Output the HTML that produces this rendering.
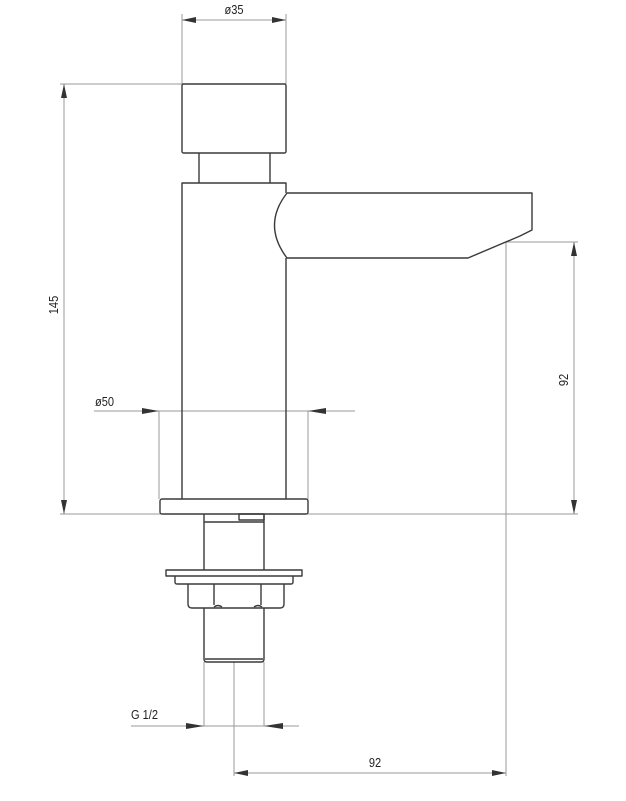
<!DOCTYPE html>
<html><head><style>body{margin:0;background:#fff}svg{display:block}</style></head><body>
<svg width="626" height="801" viewBox="0 0 626 801" xmlns="http://www.w3.org/2000/svg" font-family="Liberation Sans, sans-serif">
<g stroke="#999" stroke-width="1" fill="none">
<line x1="182" y1="14" x2="182" y2="84"/><line x1="286" y1="14" x2="286" y2="84"/>
<line x1="182" y1="20" x2="286" y2="20"/>
<line x1="60" y1="84" x2="182" y2="84"/>
<line x1="64" y1="84" x2="64" y2="514"/>
<line x1="60" y1="514" x2="578" y2="514"/>
<line x1="506" y1="242" x2="578" y2="242"/>
<line x1="574" y1="242" x2="574" y2="514"/>
<line x1="506" y1="242" x2="506" y2="776"/>
<line x1="234" y1="662" x2="234" y2="776"/>
<line x1="234" y1="773" x2="506" y2="773"/>
<line x1="94" y1="411" x2="355" y2="411"/>
<line x1="159" y1="411" x2="159" y2="499"/><line x1="308" y1="411" x2="308" y2="499"/>
<line x1="131" y1="726" x2="299" y2="726"/>
<line x1="204" y1="662" x2="204" y2="726"/><line x1="264" y1="662" x2="264" y2="726"/>
</g>
<g fill="#333">
<polygon points="182,20 196,17 196,23"/><polygon points="286,20 272,17 272,23"/>
<polygon points="64,84 61,98 67,98"/><polygon points="64,514 61,500 67,500"/>
<polygon points="574,242 571,256 577,256"/><polygon points="574,514 571,500 577,500"/>
<polygon points="234,773 248,770 248,776"/><polygon points="506,773 492,770 492,776"/>
<polygon points="159,411 142,408 142,414"/><polygon points="308,411 326,408 326,414"/>
<polygon points="204,726 186,723 186,729"/><polygon points="264,726 283,723 283,729"/>
</g>
<g stroke="#3a3a3a" stroke-width="1.4" fill="none" stroke-linejoin="round">
<rect x="182" y="84" width="104" height="69" rx="1.5"/>
<line x1="199" y1="153" x2="199" y2="183"/><line x1="270" y1="153" x2="270" y2="183"/>
<path d="M182,499 V183 H286 V193"/>
<line x1="286" y1="258" x2="286" y2="499"/>
<path d="M287,193 H532 V230 L520,236 L468,258 H297 L287,258 Q262,225 287,193"/>
<rect x="160" y="499" width="148" height="15" rx="2"/>
<path d="M204,514 V570 M264,514 V570"/>
<line x1="204" y1="522" x2="264" y2="522"/>
<rect x="239" y="514" width="25" height="6"/>
<rect x="166" y="570" width="136" height="6"/>
<path d="M175,576 V582 Q175,584 177,584 H291 Q293,584 293,582 V576"/>
<path d="M188,584 V604 Q188,608 192,608 H280 Q284,608 284,604 V584"/>
<path d="M214,584 V605 M261,584 V605 M214,607 Q218,604 222,607 M254,607 Q258,604 262,607"/>
<path d="M204,608 V659 Q204,662 207,662 H261 Q264,662 264,659 V608"/>
<line x1="205" y1="659" x2="263" y2="659"/>
</g>
<g fill="#222" font-size="13">
<text x="234" y="14" text-anchor="middle" transform="translate(234,0) scale(0.85,1) translate(-234,0)">ø35</text>
<text x="95" y="406" transform="translate(95,0) scale(0.85,1) translate(-95,0)">ø50</text>
<text x="131" y="719" transform="translate(131,0) scale(0.85,1) translate(-131,0)">G 1/2</text>
<text x="375" y="767" text-anchor="middle" transform="translate(375,0) scale(0.85,1) translate(-375,0)">92</text>
<text transform="translate(58,305) rotate(-90) scale(0.85,1)" text-anchor="middle">145</text>
<text transform="translate(568,380) rotate(-90) scale(0.85,1)" text-anchor="middle">92</text>
</g>
</svg>
</body></html>
